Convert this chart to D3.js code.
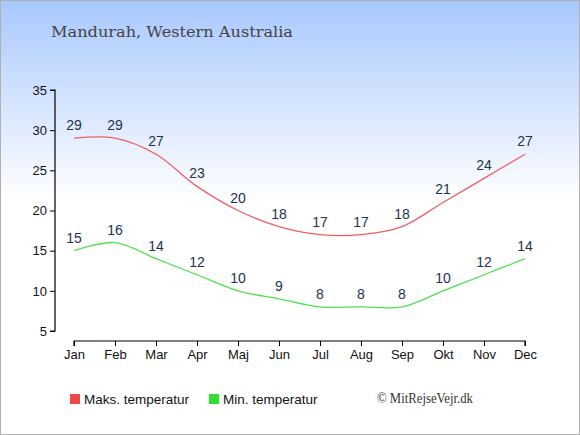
<!DOCTYPE html>
<html><head><meta charset="utf-8">
<script src="https://cdn.jsdelivr.net/npm/d3@7"></script>
<style>html,body{margin:0;padding:0;background:#fff;}svg{display:block;}</style>
</head><body>
<script>
const months = ["Jan","Feb","Mar","Apr","Maj","Jun","Jul","Aug","Sep","Okt","Nov","Dec"];
const maxTemp = [29,29,27,23,20,18,17,17,18,21,24,27];
const minTemp = [15,16,14,12,10,9,8,8,8,10,12,14];
const yTicks = [5,10,15,20,25,30,35];

const W = 580, H = 435;
const svg = d3.select("body").append("svg").attr("width", W).attr("height", H);
const defs = svg.append("defs");
const grad = defs.append("linearGradient").attr("id","bg").attr("x1",0).attr("y1",0).attr("x2",0).attr("y2",1);
grad.append("stop").attr("offset","0%").attr("stop-color","#a8c8fd");
grad.append("stop").attr("offset","46%").attr("stop-color","#ffffff");
grad.append("stop").attr("offset","100%").attr("stop-color","#ffffff");
svg.append("rect").attr("x",0.5).attr("y",0.5).attr("width",W-1).attr("height",H-1)
  .attr("fill","url(#bg)").attr("stroke","#b0b0b0").attr("stroke-width",1);

svg.append("text").attr("x",51).attr("y",37).text("Mandurah, Western Australia")
  .attr("font-family","'DejaVu Serif', serif").attr("font-size",15.5).attr("fill","#444")
  .attr("textLength",242).attr("lengthAdjust","spacingAndGlyphs");

const x = d3.scalePoint().domain(months).range([74,525]);
const y = d3.scaleLinear().domain([5,35]).range([331,90]);

const yAxis = svg.append("g").attr("transform","translate(55,0)")
  .call(d3.axisLeft(y).tickValues(yTicks).tickSize(5).tickPadding(3));
const xAxis = svg.append("g").attr("transform","translate(0,341)")
  .call(d3.axisBottom(x).tickSize(5).tickPadding(4));
[yAxis,xAxis].forEach(g=>{
  g.select(".domain").attr("stroke","#000").attr("stroke-width",1.2);
  g.selectAll(".tick line").attr("stroke","#000");
  g.selectAll("text").attr("font-family","'Liberation Sans', Arial, sans-serif").attr("font-size",13).attr("fill","#111");
});
xAxis.select(".domain").attr("d","M74,5V0H525V5");
yAxis.select(".domain").attr("d","M-5,90H0V331H-5");

const line = d3.line().x((d,i)=>x(months[i])).y(d=>y(d)).curve(d3.curveCatmullRom.alpha(0.5));
svg.append("path").attr("d",line(maxTemp)).attr("fill","none").attr("stroke","#f06060").attr("stroke-width",1.3);
svg.append("path").attr("d",line(minTemp)).attr("fill","none").attr("stroke","#50e050").attr("stroke-width",1.3);

function labels(data){
  svg.append("g").selectAll("text").data(data).join("text")
    .attr("x",(d,i)=>x(months[i])).attr("y",d=>y(d)-8)
    .attr("text-anchor","middle").text(d=>d)
    .attr("font-family","'Liberation Sans', Arial, sans-serif").attr("font-size",14).attr("fill","#22324f");
}
labels(maxTemp); labels(minTemp);

const legend = [{t:"Maks. temperatur",c:"#f04848",x:70},{t:"Min. temperatur",c:"#30e030",x:209}];
legend.forEach(l=>{
  svg.append("rect").attr("x",l.x).attr("y",394).attr("width",10).attr("height",10).attr("fill",l.c);
  svg.append("text").attr("x",l.x+14).attr("y",404).text(l.t)
    .attr("font-family","'Liberation Sans', Arial, sans-serif").attr("font-size",13.5).attr("fill","#111");
});
svg.append("text").attr("x",377).attr("y",403).text("© MitRejseVejr.dk")
  .attr("font-family","'Liberation Serif', serif").attr("font-size",14).attr("fill","#333")
  .attr("textLength",96).attr("lengthAdjust","spacingAndGlyphs");
</script>
</body></html>
